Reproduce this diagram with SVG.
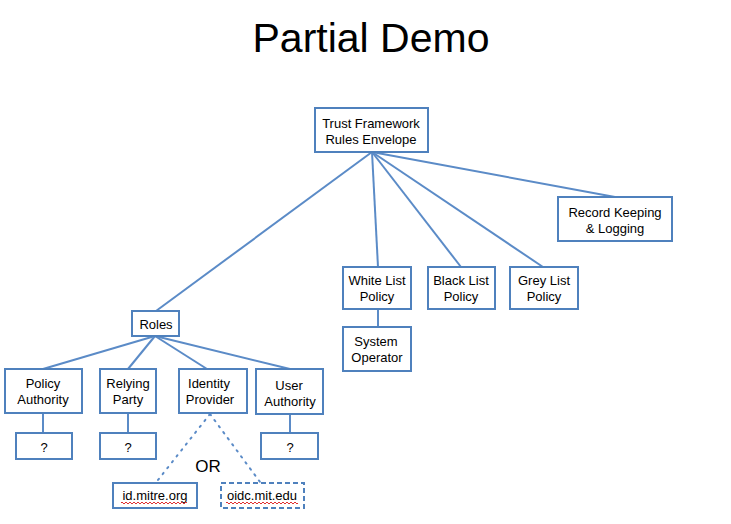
<svg xmlns="http://www.w3.org/2000/svg" width="731" height="524" viewBox="0 0 731 524">
<style>
.box{fill:#fff;stroke:#4f81bd;stroke-width:2}
.dash{fill:#fff;stroke:#4f81bd;stroke-width:2;stroke-dasharray:5 3}
.ln{stroke:#5b8bc7;stroke-width:2;fill:none}
.dot{stroke:#5b8bc7;stroke-width:2;fill:none;stroke-dasharray:1.5 6;stroke-linecap:round}
.t{font-family:"Liberation Sans",Arial,sans-serif;font-size:13px;fill:#000;text-anchor:middle}
.sq{stroke:#e03030;stroke-width:1;fill:none}
</style>
<rect width="731" height="524" fill="#fff"/>
<text x="371" y="52" style="font-family:'Liberation Sans',Arial,sans-serif;font-size:41px;text-anchor:middle">Partial Demo</text>
<g id="connectors">
<line class="ln" x1="372" y1="152" x2="156" y2="311"/>
<line class="ln" x1="372" y1="152" x2="378" y2="267"/>
<line class="ln" x1="372" y1="152" x2="461" y2="267"/>
<line class="ln" x1="372" y1="152" x2="543" y2="267"/>
<line class="ln" x1="372" y1="152" x2="615" y2="197"/>
<line class="ln" x1="378" y1="309" x2="378" y2="327"/>
<line class="ln" x1="155" y1="336" x2="43" y2="369"/>
<line class="ln" x1="155" y1="336" x2="128" y2="369"/>
<line class="ln" x1="155" y1="336" x2="207" y2="369"/>
<line class="ln" x1="155" y1="336" x2="290" y2="369"/>
<line class="ln" x1="43" y1="413" x2="43" y2="433"/>
<line class="ln" x1="128" y1="413" x2="128" y2="433"/>
<line class="ln" x1="290" y1="414" x2="290" y2="433"/>
<line class="dot" x1="210" y1="414" x2="158" y2="480"/>
<line class="dot" x1="210" y1="414" x2="260" y2="482"/>
</g>
<g id="trust"><rect class="box" x="315" y="108" width="113" height="44"/><text class="t" x="371" y="128">Trust Framework</text><text class="t" x="371" y="144">Rules Envelope</text></g>
<g id="record"><rect class="box" x="558" y="197" width="114" height="44"/><text class="t" x="615" y="217">Record Keeping</text><text class="t" x="615" y="233">&amp; Logging</text></g>
<g id="white"><rect class="box" x="343" y="267" width="68" height="42"/><text class="t" x="377" y="285">White List</text><text class="t" x="377" y="301">Policy</text></g>
<g id="black"><rect class="box" x="428" y="267" width="67" height="42"/><text class="t" x="461" y="285">Black List</text><text class="t" x="461" y="301">Policy</text></g>
<g id="grey"><rect class="box" x="510" y="267" width="68" height="42"/><text class="t" x="544" y="285">Grey List</text><text class="t" x="544" y="301">Policy</text></g>
<g id="sysop"><rect class="box" x="343" y="327" width="68" height="44"/><text class="t" x="376" y="346">System</text><text class="t" x="377" y="362">Operator</text></g>
<g id="roles"><rect class="box" x="132" y="311" width="47" height="25"/><text class="t" x="156" y="329">Roles</text></g>
<g id="policyauth"><rect class="box" x="5" y="369" width="77" height="44"/><text class="t" x="43" y="388">Policy</text><text class="t" x="43" y="404">Authority</text></g>
<g id="relying"><rect class="box" x="100" y="369" width="56" height="44"/><text class="t" x="128" y="388">Relying</text><text class="t" x="128" y="404">Party</text></g>
<g id="idp"><rect class="box" x="179" y="369" width="68" height="44"/><text class="t" x="209" y="388">Identity</text><text class="t" x="210" y="404">Provider</text></g>
<g id="userauth"><rect class="box" x="256" y="369" width="67" height="45"/><text class="t" x="289" y="390">User</text><text class="t" x="290" y="406">Authority</text></g>
<g id="q1"><rect class="box" x="16" y="433" width="56" height="26"/><text class="t" x="44" y="452">?</text></g>
<g id="q2"><rect class="box" x="100" y="433" width="56" height="26"/><text class="t" x="128" y="452">?</text></g>
<g id="q3"><rect class="box" x="261" y="433" width="57" height="26"/><text class="t" x="290" y="452">?</text></g>
<text x="208" y="472" style="font-family:'Liberation Sans',Arial,sans-serif;font-size:17px;text-anchor:middle">OR</text>
<g id="mitre"><rect class="box" x="113" y="483" width="84" height="25"/><text class="t" x="155" y="500">id.mitre.org</text><path class="sq" d="M121 503 q1 -2 2 0 t2 0 t2 0 t2 0 t2 0 t2 0 t2 0 t2 0 t2 0 t2 0 t2 0 t2 0 t2 0 t2 0 t2 0 t2 0 t2 0 t2 0 t2 0 t2 0 t2 0 t2 0 t2 0 t2 0 t2 0 t2 0 t2 0 t2 0 t2 0 t2 0 t2 0 t2 0 t2 0"/></g>
<g id="oidc"><rect class="dash" x="221" y="483" width="83" height="25"/><text class="t" x="262" y="500">oidc.mit.edu</text><path class="sq" d="M226 503 q1 -2 2 0 t2 0 t2 0 t2 0 t2 0 t2 0 t2 0 t2 0 t2 0 t2 0 t2 0 t2 0 t2 0 t2 0 t2 0 t2 0 t2 0 t2 0 t2 0 t2 0 t2 0 t2 0 t2 0 t2 0 t2 0 t2 0 t2 0 t2 0 t2 0 t2 0 t2 0 t2 0 t2 0 t2 0 t2 0 t2 0"/></g>
</svg>
